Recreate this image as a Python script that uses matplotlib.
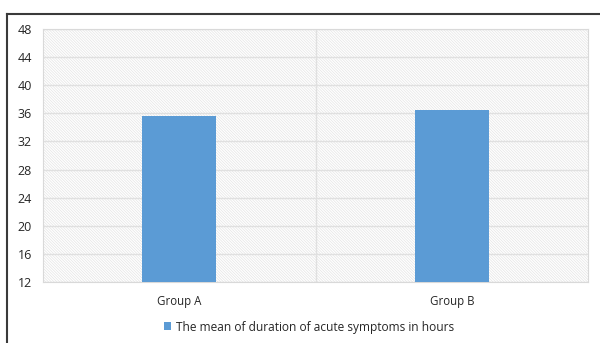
import matplotlib.pyplot as plt
from matplotlib.lines import Line2D

groups = ['Group A', 'Group B']
mean_hours = [35.6, 36.5]
y_ticks = [12, 16, 20, 24, 28, 32, 36, 40, 44, 48]
series_label = 'The mean of duration of acute symptoms in hours'

plt.rcParams['font.family'] = ['Open Sans', 'DejaVu Sans']
plt.rcParams['hatch.color'] = '#E4E4E4'
plt.rcParams['hatch.linewidth'] = 0.5

fig = plt.figure(figsize=(6, 3.43), dpi=100)
ax = fig.add_axes([43/600, 1 - 282/343, 545/600, 253/343])

# hatched plot area like the Excel pattern fill
ax.patch.set_facecolor('white')
ax.patch.set_hatch('\\' * 12)
ax.patch.set_edgecolor('#E4E4E4')

x = range(len(groups))
ax.bar(x, mean_hours, width=0.27, color='#5B9BD5', zorder=3,
       label=series_label)

ax.set_ylim(12, 48)
ax.set_yticks(y_ticks)
ax.set_xlim(-0.5, 1.5)
ax.set_xticks(list(x))
ax.set_xticklabels(groups)
ax.yaxis.grid(True, color='#E0E0E0', linewidth=1, zorder=1)
ax.axvline(0.5, color='#E0E0E0', linewidth=1, zorder=1)
ax.tick_params(axis='both', length=0, colors='#262626')
ax.tick_params(axis='y', pad=8, labelsize=9)
ax.tick_params(axis='x', pad=9, labelsize=8.3)
for s in ax.spines.values():
    s.set_color('#D9D9D9')
    s.set_linewidth(0.8)

ax.legend(loc='center', bbox_to_anchor=(309 / 600, (343 - 327) / 343), bbox_transform=fig.transFigure,
          frameon=False, fontsize=8.6, handlelength=0.65, handleheight=0.65,
          handletextpad=0.4, labelcolor='#262626')

# outer dark frame (partly cut off at right/bottom)
fig.add_artist(Line2D([6.5/600, 6.5/600], [0, 1 - 13.5/343], color='#3A3A3A', linewidth=1.5))
fig.add_artist(Line2D([6.5/600, 1], [1 - 13.5/343, 1 - 13.5/343], color='#3A3A3A', linewidth=1.5))

fig.savefig('out.png', dpi=100)
